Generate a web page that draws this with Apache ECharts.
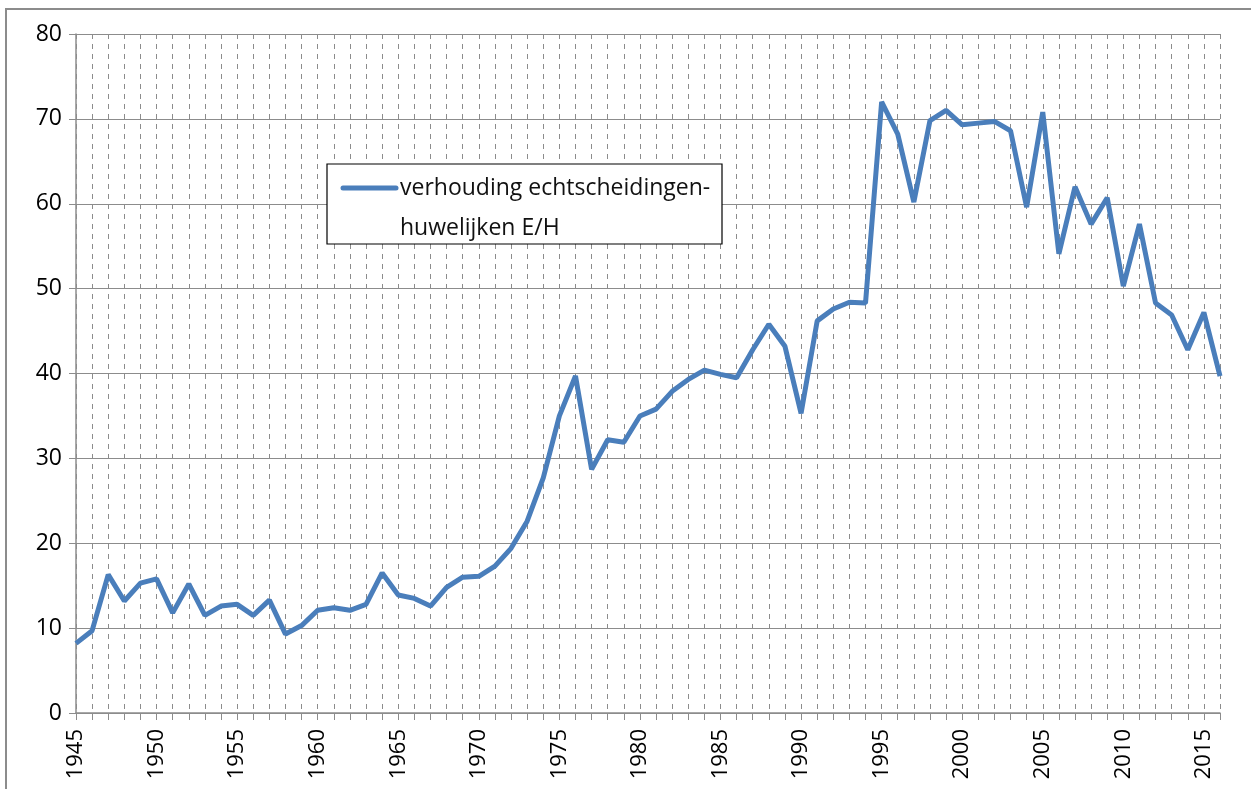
<!DOCTYPE html>
<html style="height: 100%">
<head>
    <meta charset="utf-8">
</head>
<body style="height: 100%; margin: 0; background: #fff">
<div id="container" style="width: 1251px; height: 789px"></div>

<script type="text/javascript" src="https://cdn.jsdelivr.net/npm/echarts@6/dist/echarts.min.js"></script>
<script type="text/javascript">
    // jaren 1945 - 2016
    var years = [];
    for (var y = 1945; y <= 2016; y++) years.push(String(y));

    var ratio = [
        8.2, 9.7, 16.3, 13.2, 15.3, 15.8, 11.8, 15.2, 11.5, 12.6,   // 1945-1954
        12.8, 11.5, 13.3, 9.3, 10.3, 12.1, 12.4, 12.1, 12.8, 16.5,  // 1955-1964
        13.9, 13.5, 12.6, 14.8, 16.0, 16.1, 17.3, 19.4, 22.6, 27.7, // 1965-1974
        35.0, 39.7, 28.7, 32.2, 31.9, 35.0, 35.8, 37.9, 39.3, 40.4, // 1975-1984
        39.9, 39.5, 42.8, 45.8, 43.2, 35.3, 46.2, 47.6, 48.4, 48.3, // 1985-1994
        72.0, 68.2, 60.2, 69.8, 71.0, 69.3, 69.5, 69.7, 68.6, 59.6, // 1995-2004
        70.8, 54.1, 62.0, 57.6, 60.7, 50.3, 57.6, 48.3, 46.9, 42.8, // 2005-2014
        47.2, 39.7                                                  // 2015-2016
    ];

    var seriesName = 'verhouding echtscheidingen-\nhuwelijken E/H';

    var dom = document.getElementById("container");
    var myChart = echarts.init(dom);
    var font = 'Open Sans';
    var blue = '#4a7ebb';

    var option = {
        animation: false,
        backgroundColor: '#fff',
        textStyle: {fontFamily: font},
        // legenda zoals in Excel: kader met lijntje en tekst over twee regels
        graphic: [{
            type: 'rect',
            shape: {x: 6, y: 9, width: 1400, height: 900},
            style: {fill: 'none', stroke: '#8c8c8c', lineWidth: 2},
            silent: true
        }, {
            type: 'rect',
            shape: {x: 327, y: 164, width: 395, height: 80},
            style: {fill: '#fff', stroke: '#000', lineWidth: 1.2},
            z: 5
        }, {
            type: 'line',
            shape: {x1: 343, y1: 188, x2: 396, y2: 188},
            style: {stroke: blue, lineWidth: 5, lineCap: 'round'},
            z: 6
        }, {
            type: 'text',
            x: 400,
            y: 168,
            z: 6,
            style: {
                text: seriesName,
                font: '23px "Open Sans"',
                fill: '#111',
                lineHeight: 40,
                verticalAlign: 'top'
            }
        }],
        grid: {left: 76, right: 31, top: 34, bottom: 76},
        xAxis: {
            type: 'category',
            data: years,
            boundaryGap: false,
            axisLine: {lineStyle: {color: '#8c8c8c', width: 1.5}},
            axisTick: {
                interval: 0,
                length: 7,
                lineStyle: {color: '#8c8c8c'}
            },
            axisLabel: {
                rotate: 90,
                margin: 16,
                fontSize: 22,
                color: '#000',
                fontFamily: font,
                interval: function (idx, val) {
                    return Number(val) % 5 === 0;
                }
            },
            splitLine: {
                show: true,
                interval: 0,
                lineStyle: {color: '#8c8c8c', type: [5, 5], width: 1}
            }
        },
        yAxis: {
            type: 'value',
            min: 0,
            max: 80,
            interval: 10,
            axisLine: {show: true, lineStyle: {color: '#8c8c8c', width: 1.5}},
            axisTick: {show: true, length: 7, lineStyle: {color: '#8c8c8c'}},
            axisLabel: {fontSize: 23, color: '#000', fontFamily: font, margin: 14},
            splitLine: {lineStyle: {color: '#8c8c8c', width: 1.2}}
        },
        series: [{
            name: seriesName,
            type: 'line',
            data: ratio,
            symbol: 'none',
            lineStyle: {color: blue, width: 5},
            itemStyle: {color: blue}
        }]
    };

    if (option && typeof option === 'object') {
        myChart.setOption(option);
    }
</script>
</body>
</html>
